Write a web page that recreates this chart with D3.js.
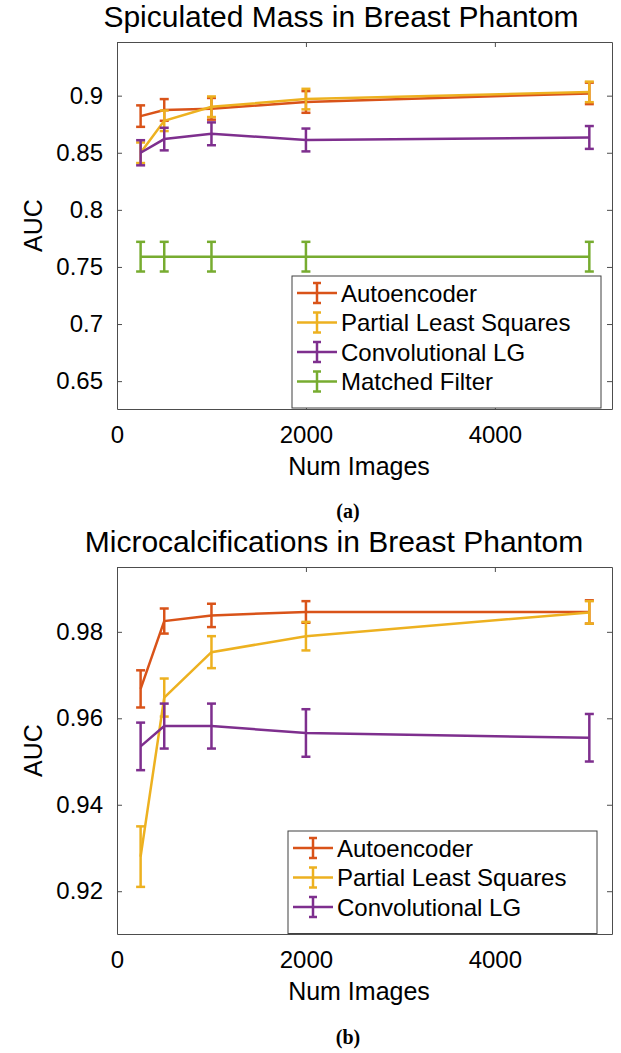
<!DOCTYPE html>
<html lang="en">
<head>
    <meta charset="utf-8">
    <title>AUC vs Num Images</title>
    <script src="https://cdn.jsdelivr.net/npm/d3@7"></script>
    <style>
        body { margin: 0; background: #fff; }
        svg text { font-family: "Liberation Sans", Arial, Helvetica, sans-serif; fill: #000; }
    </style>
</head>
<body>
<script>
    // shared x values
    var numImages = [250, 500, 1000, 2000, 5000];
    var xTicks = [0, 2000, 4000];

    var seriesNames = ["Autoencoder", "Partial Least Squares", "Convolutional LG", "Matched Filter"];
    var seriesColors = ["#D95319", "#EDB120", "#7E2F8E", "#77AC30"];

    // (a) spiculated mass
    var massAuto = [0.8821, 0.8875, 0.8885, 0.8945, 0.9020];
    var massAutoErr = [0.0094, 0.0095, 0.0095, 0.0095, 0.0094];
    var massPls = [0.8500, 0.8780, 0.8903, 0.8970, 0.9033];
    var massPlsErr = [0.0090, 0.0090, 0.0090, 0.0090, 0.0090];
    var massConv = [0.8500, 0.8620, 0.8666, 0.8612, 0.8634];
    var massConvErr = [0.0110, 0.0099, 0.0100, 0.0100, 0.0100];
    var massMf = [0.759, 0.759, 0.759, 0.759, 0.759];
    var massMfErr = [0.013, 0.013, 0.013, 0.013, 0.013];
    var massYTicks = [0.65, 0.7, 0.75, 0.8, 0.85, 0.9];

    // (b) microcalcifications
    var calcAuto = [0.9668, 0.9825, 0.9838, 0.9846, 0.9846];
    var calcAutoErr = [0.0043, 0.0029, 0.0027, 0.0025, 0.0027];
    var calcPls = [0.9280, 0.9648, 0.9753, 0.9790, 0.9845];
    var calcPlsErr = [0.0070, 0.0044, 0.0037, 0.0033, 0.0026];
    var calcConv = [0.9535, 0.9582, 0.9582, 0.9566, 0.9555];
    var calcConvErr = [0.0055, 0.0052, 0.0052, 0.0055, 0.0055];
    var calcYTicks = [0.92, 0.94, 0.96, 0.98];

    var width = 621, height = 1053;
    var left = 117, right = 612;
    var capW = 9;

    var svg = d3.select("body").append("svg").attr("width", width).attr("height", height);

    function panel(opts) {
        var x = d3.scaleLinear().domain([0, 5240]).range([left, right]);
        var y = d3.scaleLinear().domain(opts.yDomain).range([opts.bottom, opts.top]);
        var g = svg.append("g");

        g.append("text").text(opts.title).attr("x", opts.titleX).attr("y", opts.top - 15)
            .attr("text-anchor", "middle").attr("font-size", "30px");

        var fmt = function (d) { return String(+d.toFixed(2)); };
        var ax = [
            g.append("g").attr("transform", "translate(0," + opts.bottom + ")")
                .call(d3.axisBottom(x).tickValues(xTicks).tickSizeInner(-5).tickSizeOuter(0).tickPadding(17).tickFormat(d3.format("d"))),
            g.append("g").attr("transform", "translate(0," + opts.top + ")")
                .call(d3.axisTop(x).tickValues(xTicks).tickSizeInner(-5).tickSizeOuter(0).tickFormat("")),
            g.append("g").attr("transform", "translate(" + left + ",0)")
                .call(d3.axisLeft(y).tickValues(opts.yTicks).tickSizeInner(-5).tickSizeOuter(0).tickPadding(14).tickFormat(fmt)),
            g.append("g").attr("transform", "translate(" + right + ",0)")
                .call(d3.axisRight(y).tickValues(opts.yTicks).tickSizeInner(-5).tickSizeOuter(0).tickFormat(""))
        ];
        ax.forEach(function (a) {
            a.selectAll("path").attr("stroke", "#4d4d4d");
            a.selectAll("line").attr("stroke", "#4d4d4d");
            a.selectAll("text").attr("font-size", "24px").attr("fill", "#262626")
                .style("font-family", "'Liberation Sans', Arial, sans-serif");
        });

        g.append("text").text("AUC").attr("transform", "translate(33," + ((opts.top + opts.bottom) / 2) + ") rotate(-90)")
            .attr("text-anchor", "middle").attr("dominant-baseline", "central").attr("font-size", "25px");
        g.append("text").text("Num Images").attr("x", 359).attr("y", opts.bottom + 66)
            .attr("text-anchor", "middle").attr("font-size", "25px");

        var line = d3.line().x(function (d) { return x(d[0]); }).y(function (d) { return y(d[1]); });

        opts.series.forEach(function (s, k) {
            var col = seriesColors[k];
            var pts = numImages.map(function (n, i) { return [n, s.v[i], s.e[i]]; });
            var sg = g.append("g");
            sg.append("path").attr("d", line(pts)).attr("fill", "none").attr("stroke", col).attr("stroke-width", 2.5);
            pts.forEach(function (p) {
                var cx = x(p[0]), y0 = y(p[1] - p[2]), y1 = y(p[1] + p[2]);
                sg.append("line").attr("x1", cx).attr("x2", cx).attr("y1", y0).attr("y2", y1).attr("stroke", col).attr("stroke-width", 2.5);
                sg.append("line").attr("x1", cx - capW / 2).attr("x2", cx + capW / 2).attr("y1", y0).attr("y2", y0).attr("stroke", col).attr("stroke-width", 2.5);
                sg.append("line").attr("x1", cx - capW / 2).attr("x2", cx + capW / 2).attr("y1", y1).attr("y2", y1).attr("stroke", col).attr("stroke-width", 2.5);
            });
        });

        // legend
        var lg = g.append("g");
        var n = opts.series.length;
        lg.append("rect").attr("x", opts.legX).attr("y", opts.legY).attr("width", 309).attr("height", 14 + n * 29.5)
            .attr("fill", "#fff").attr("stroke", "#404040").attr("stroke-width", 1);
        for (var k = 0; k < n; k++) {
            var ry = opts.legY + 17 + k * 29.5;
            var lx = opts.legX + 5;
            lg.append("line").attr("x1", lx).attr("x2", lx + 40).attr("y1", ry).attr("y2", ry).attr("stroke", seriesColors[k]).attr("stroke-width", 2.5);
            lg.append("line").attr("x1", lx + 20).attr("x2", lx + 20).attr("y1", ry - 10).attr("y2", ry + 10).attr("stroke", seriesColors[k]).attr("stroke-width", 2.5);
            lg.append("line").attr("x1", lx + 16).attr("x2", lx + 24).attr("y1", ry - 10).attr("y2", ry - 10).attr("stroke", seriesColors[k]).attr("stroke-width", 2.5);
            lg.append("line").attr("x1", lx + 16).attr("x2", lx + 24).attr("y1", ry + 10).attr("y2", ry + 10).attr("stroke", seriesColors[k]).attr("stroke-width", 2.5);
            lg.append("text").text(seriesNames[k]).attr("x", lx + 44).attr("y", ry).attr("dominant-baseline", "central")
                .attr("font-size", "24px");
        }

        svg.append("text").text(opts.sub).attr("x", 348).attr("y", opts.subY).attr("text-anchor", "middle")
            .style("font-family", "'Liberation Serif', 'Times New Roman', serif").attr("font-weight", "bold").attr("font-size", "20px");
    }

    panel({
        title: "Spiculated Mass in Breast Phantom", titleX: 341,
        top: 42, bottom: 409, yDomain: [0.6256, 0.947], yTicks: massYTicks,
        series: [{ v: massAuto, e: massAutoErr }, { v: massPls, e: massPlsErr }, { v: massConv, e: massConvErr }, { v: massMf, e: massMfErr }],
        legX: 292, legY: 276, sub: "(a)", subY: 518
    });
    panel({
        title: "Microcalcifications in Breast Phantom", titleX: 334,
        top: 567, bottom: 934, yDomain: [0.9101, 0.995], yTicks: calcYTicks,
        series: [{ v: calcAuto, e: calcAutoErr }, { v: calcPls, e: calcPlsErr }, { v: calcConv, e: calcConvErr }],
        legX: 288, legY: 831, sub: "(b)", subY: 1044
    });
</script>
</body>
</html>
